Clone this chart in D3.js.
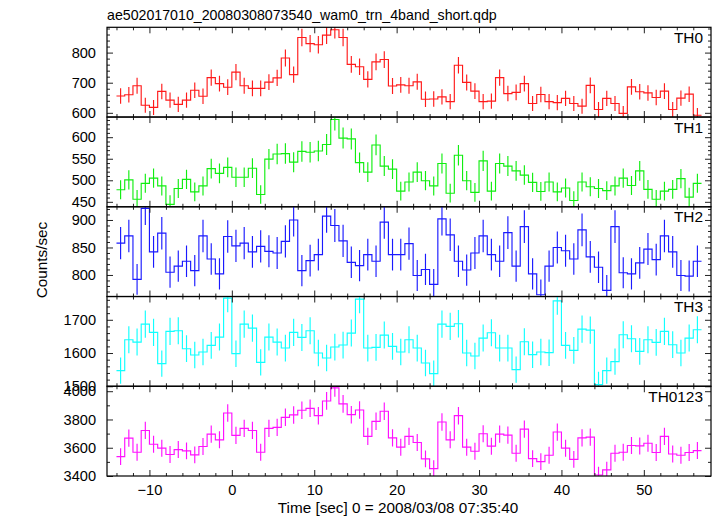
<!DOCTYPE html>
<html><head><meta charset="utf-8">
<script src="https://cdn.jsdelivr.net/npm/d3@7"></script>
<style>
body{margin:0;background:#fff}
text{font-family:"Liberation Sans",Arial,Helvetica,sans-serif}
</style>
</head><body>
<svg id="chart" width="717" height="516"></svg>
<script>
const chartTitle = "ae502017010_20080308073540_wam0_trn_4band_short.qdp";
const xLabel = "Time [sec] 0 = 2008/03/08 07:35:40";
const yLabel = "Counts/sec";
// bin centres (1-s bins)
const timeBins = d3.range(-13.5, 57, 1);

const th0 = [656,660,690,625,618,671,642,628,642,675,655,717,697,685,735,690,681,681,702,716,782,727,850,830,826,858,876,850,761,753,711,769,777,689,693,
  690,703,645,646,653,637,758,701,672,637,639,717,664,668,697,631,661,637,634,648,631,622,691,611,648,631,598,686,670,666,651,672,611,649,662,592];
const th1 = [478,501,456,493,505,487,444,481,502,473,487,527,516,530,507,507,528,467,549,561,562,542,567,565,568,583,641,598,596,541,519,582,533,526,475,
  496,519,499,487,539,470,558,499,472,545,475,539,533,522,512,495,474,496,473,482,453,496,485,481,476,487,505,488,522,479,456,475,479,504,461,493];
const th2 = [858,871,792,921,842,876,805,816,825,808,871,829,802,870,853,858,842,852,843,840,861,900,808,826,837,907,890,862,823,817,837,825,896,837,837,
  857,799,810,783,902,873,825,809,840,871,837,825,877,816,888,802,764,816,850,844,829,882,833,814,772,888,804,802,822,847,828,871,842,799,798,825];
const th3 = [1547,1640,1633,1687,1662,1568,1665,1667,1613,1594,1603,1623,1648,1765,1598,1687,1675,1572,1648,1633,1615,1662,1647,1667,1600,1585,1618,1624,1660,1762,1615,1617,1654,1620,1603,
  1640,1615,1570,1538,1687,1680,1688,1600,1591,1645,1661,1615,1615,1550,1634,1595,1603,1601,1757,1623,1608,1672,1669,1505,1547,1574,1655,1643,1605,1640,1632,1665,1625,1600,1645,1670];
const th0123 = [3537,3668,3568,3722,3625,3597,3552,3587,3578,3549,3609,3696,3656,3846,3687,3737,3722,3568,3737,3744,3815,3832,3865,3879,3827,3931,4024,3910,3834,3867,3680,3787,3858,3670,3604,
  3680,3637,3521,3452,3782,3656,3827,3604,3575,3699,3611,3696,3689,3561,3732,3523,3502,3547,3711,3597,3518,3670,3675,3407,3443,3561,3568,3616,3613,3632,3566,3680,3556,3547,3566,3580];

const panelNames = ["TH0","TH1","TH2","TH3","TH0123"];
const panelSeries = [th0, th1, th2, th3, th0123];
const yDomains = [[586,884],[438.5,646.8],[760.8,924],[1500,1770],[3400,4035]];
const yMajorTicks = [[600,700,800],[450,500,550,600],[800,850,900],[1500,1600,1700],[3400,3600,3800,4000]];
const yMinorStep = [20,10,10,20,100];
const xMajorTicks = [-10,0,10,20,30,40,50];
const xDomain = [-15.15, 58.15];

// ---------- layout / style ----------
const colors = ["#ff1a1a","#11ee11","#1a1aff","#11ffff","#ff11ff"];
const L = 107, R = 711, T = 27.3, B = 476;
const ph = (B - T) / 5;
const svg = d3.select("#chart");
const x = d3.scaleLinear().domain(xDomain).range([L, R]);
const xMinor = d3.range(-14, 58, 2).filter(v => !xMajorTicks.includes(v));

svg.append("text").attr("x", 107).attr("y", 20).attr("font-size", 14.2).text(chartTitle);

panelNames.forEach((name, p) => {
  const top = T + p * ph, bot = top + ph;
  const y = d3.scaleLinear().domain(yDomains[p]).range([bot, top]);
  const vals = panelSeries[p];
  const g = svg.append("g");
  const clipId = "clip" + p;
  svg.append("clipPath").attr("id", clipId).append("rect")
    .attr("x", L).attr("y", top).attr("width", R - L).attr("height", ph);
  const dg = g.append("g").attr("clip-path", `url(#${clipId})`)
    .attr("stroke", colors[p]).attr("fill", "none").attr("stroke-width", 1.15);
  const pts = timeBins.map((t, i) => [t - 0.5, vals[i]]);
  pts.push([timeBins[timeBins.length - 1] + 0.5, vals[vals.length - 1]]);
  dg.append("path")
    .attr("d", d3.line().x(d => x(d[0])).y(d => y(d[1])).curve(d3.curveStepAfter)(pts));
  dg.selectAll("line.err").data(timeBins).join("line").attr("class", "err")
    .attr("x1", t => x(t)).attr("x2", t => x(t))
    .attr("y1", (t, i) => y(vals[i] - Math.sqrt(vals[i])))
    .attr("y2", (t, i) => y(vals[i] + Math.sqrt(vals[i])));

  // axes
  const yMin = d3.range(Math.ceil(yDomains[p][0] / yMinorStep[p]) * yMinorStep[p], yDomains[p][1], yMinorStep[p])
    .filter(v => !yMajorTicks[p].includes(v));
  const ax = g.append("g").attr("class", "axes");
  ax.append("g").attr("transform", `translate(${L},0)`)
    .call(d3.axisLeft(y).tickValues(yMajorTicks[p]).tickSize(-6).tickPadding(11).tickFormat(d3.format("d")));
  ax.append("g").attr("transform", `translate(${L},0)`)
    .call(d3.axisLeft(y).tickValues(yMin).tickSize(-3).tickFormat(""));
  ax.append("g").attr("transform", `translate(${R},0)`)
    .call(d3.axisRight(y).tickValues(yMajorTicks[p]).tickSize(-6).tickFormat(""));
  ax.append("g").attr("transform", `translate(${R},0)`)
    .call(d3.axisRight(y).tickValues(yMin).tickSize(-3).tickFormat(""));
  ax.append("g").attr("transform", `translate(0,${top})`)
    .call(d3.axisTop(x).tickValues(xMajorTicks).tickSize(-6).tickFormat(""));
  ax.append("g").attr("transform", `translate(0,${top})`)
    .call(d3.axisTop(x).tickValues(xMinor).tickSize(-3).tickFormat(""));
  ax.append("g").attr("transform", `translate(0,${bot})`)
    .call(d3.axisBottom(x).tickValues(xMajorTicks).tickSize(-6).tickPadding(8.5)
      .tickFormat(p === 4 ? (d => d < 0 ? "\u2212" + Math.abs(d) : d) : ""));
  ax.append("g").attr("transform", `translate(0,${bot})`)
    .call(d3.axisBottom(x).tickValues(xMinor).tickSize(-3).tickFormat(""));
  ax.selectAll(".domain").remove();
  ax.selectAll(".tick line").attr("stroke", "#222").attr("stroke-width", 1);
  ax.selectAll(".tick text").attr("font-size", 14.6).attr("fill", "#000")
    .style("font-family", '"Liberation Sans",Arial,sans-serif');
  g.append("rect").attr("x", L).attr("y", top).attr("width", R - L).attr("height", ph)
    .attr("fill", "none").attr("stroke", "#000").attr("stroke-width", 1.2);
  g.append("text").attr("x", 703).attr("y", top + 15.5).attr("text-anchor", "end")
    .attr("font-size", 15.4).text(name);
});

svg.append("text").attr("transform", "translate(46.5,260) rotate(-90)")
  .attr("text-anchor", "middle").attr("font-size", 15.3).text(yLabel);
svg.append("text").attr("x", 398).attr("y", 512.5).attr("text-anchor", "middle")
  .attr("font-size", 15.3).text(xLabel);
</script>
</body></html>
